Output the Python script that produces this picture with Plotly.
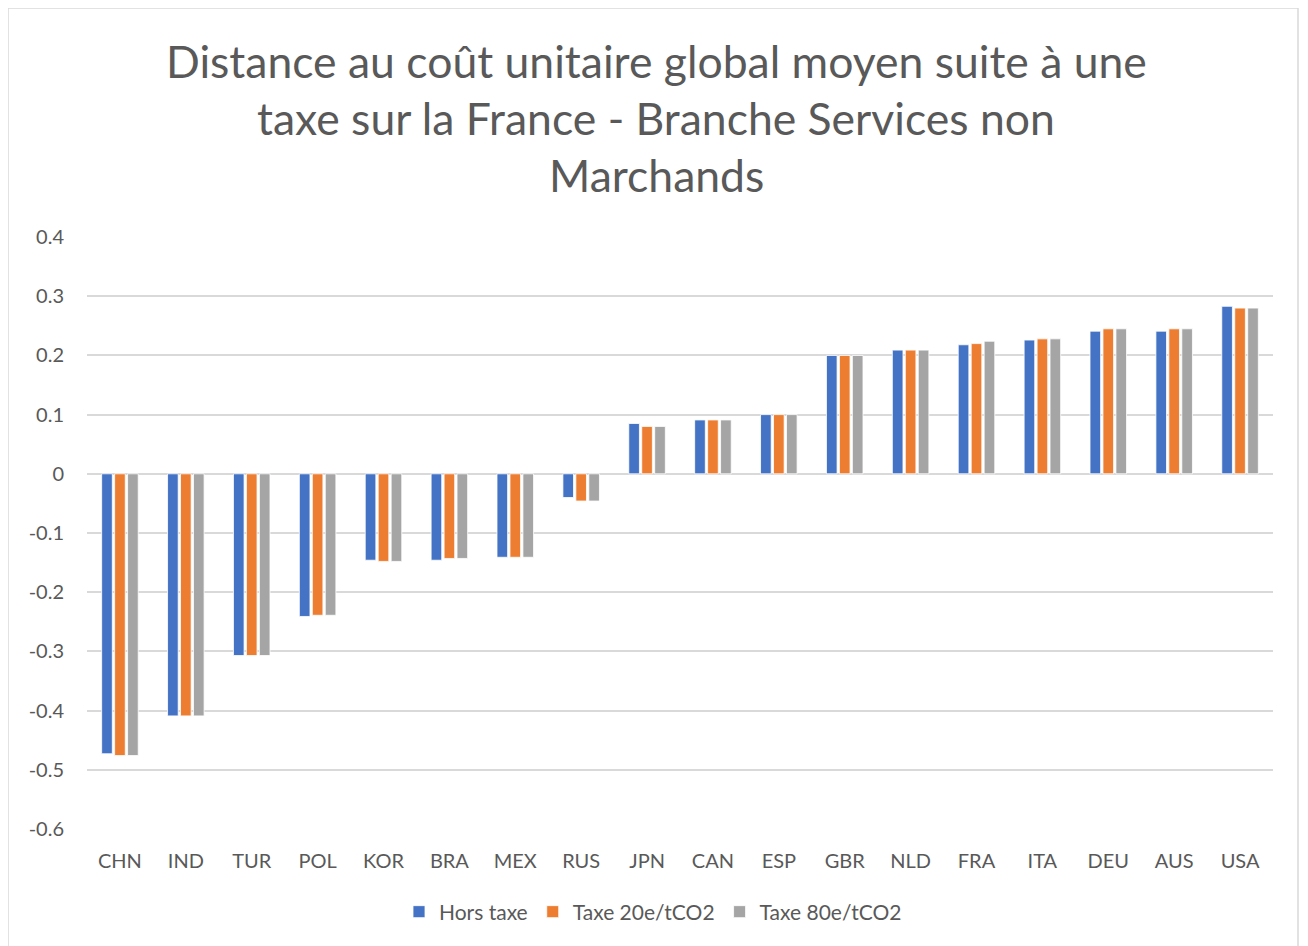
import plotly.graph_objects as go

categories = ["CHN", "IND", "TUR", "POL", "KOR", "BRA", "MEX", "RUS", "JPN",
              "CAN", "ESP", "GBR", "NLD", "FRA", "ITA", "DEU", "AUS", "USA"]
hors_taxe = [-0.473, -0.409, -0.307, -0.241, -0.146, -0.146, -0.141, -0.040, 0.085,
             0.091, 0.100, 0.200, 0.209, 0.218, 0.226, 0.241, 0.241, 0.283]
taxe_20 = [-0.476, -0.409, -0.307, -0.239, -0.148, -0.143, -0.141, -0.046, 0.080,
           0.091, 0.100, 0.200, 0.209, 0.220, 0.228, 0.245, 0.245, 0.280]
taxe_80 = [-0.476, -0.409, -0.307, -0.239, -0.148, -0.143, -0.141, -0.046, 0.080,
           0.091, 0.100, 0.200, 0.209, 0.224, 0.228, 0.245, 0.245, 0.280]
series_names = ["Hors taxe", "Taxe 20e/tCO2", "Taxe 80e/tCO2"]
title_lines = ["Distance au coût unitaire global moyen suite à une",
               "taxe sur la France - Branche Services non",
               "Marchands"]
y_ticks = [0.4, 0.3, 0.2, 0.1, 0, -0.1, -0.2, -0.3, -0.4, -0.5, -0.6]
y_tick_text = ["0.4", "0.3", "0.2", "0.1", "0", "-0.1", "-0.2", "-0.3", "-0.4", "-0.5", "-0.6"]

colors = ["#4472C4", "#ED7D31", "#A5A5A5"]
OFF = 8  # page body margin
W, H = 1308 - OFF, 946 - OFF
L, T = 87 - OFF, 237 - OFF
PW, PH = 1186, 592
R = W - L - PW
B = H - T - PH
FONT = "Lato, 'Open Sans', sans-serif"
TXT = "#595959"

fig = go.Figure()
for name, vals, c in zip(series_names, [hors_taxe, taxe_20, taxe_80], colors):
    fig.add_trace(go.Bar(x=categories, y=vals, name=name,
                         marker=dict(color=c, line=dict(color="white", width=0.8))))


def px_x(p):
    return (p - OFF - L) / PW


def px_y(p):
    return 1 - (p - OFF - T) / PH


annotations = []
for line, yc in zip(title_lines, [60, 117, 175]):
    annotations.append(dict(text=line, xref="paper", yref="paper",
                            x=px_x(656), y=px_y(yc), xanchor="center", yanchor="middle",
                            showarrow=False, font=dict(family=FONT, size=44.5, color=TXT)))

fig.update_layout(
    width=W, height=H,
    margin=dict(l=L, r=R, t=T, b=B, pad=0),
    paper_bgcolor="white", plot_bgcolor="white",
    barmode="group", bargap=0.41, bargroupgap=0.18,
    font=dict(family=FONT, color=TXT, size=20),
    showlegend=True,
    legend=dict(orientation="h", xanchor="center", x=px_x(653), yanchor="middle", y=px_y(912),
                font=dict(family=FONT, size=21, color=TXT), itemwidth=30,
                traceorder="normal"),
    annotations=annotations,
    shapes=[dict(type="rect", xref="paper", yref="paper",
                 x0=px_x(8), x1=px_x(1298), y0=px_y(980), y1=px_y(8),
                 line=dict(color="#D9D9D9", width=1.5), fillcolor="rgba(0,0,0,0)", layer="below")],
    xaxis=dict(showgrid=False, showline=False, ticks="", tickfont=dict(size=20, color=TXT),
               ticklabelstandoff=18),
    yaxis=dict(range=[-0.6001, 0.4001], tickvals=y_ticks, ticktext=y_tick_text,
               showgrid=True, gridcolor="#D9D9D9", gridwidth=1.5,
               zeroline=True, zerolinecolor="#D9D9D9", zerolinewidth=1.5,
               showline=False, ticks="", tickfont=dict(size=20, color=TXT),
               ticklabelstandoff=22),
)

fig.write_html("out.html")
